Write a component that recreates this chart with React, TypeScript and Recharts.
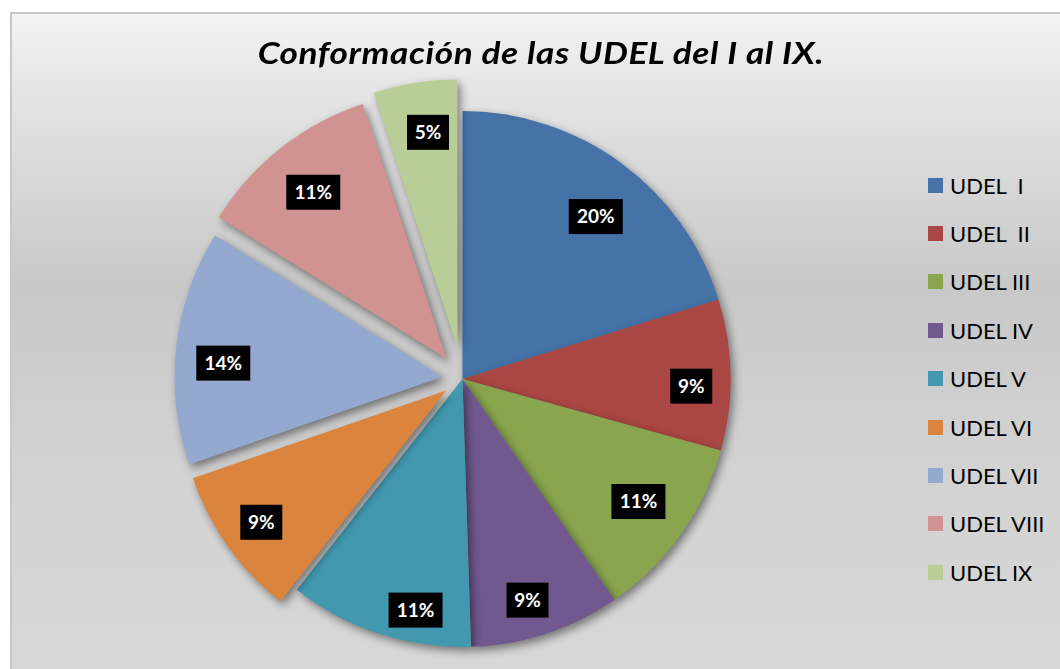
import React from 'react'
import { PieChart, Pie, Cell, Legend } from 'recharts'

// UDEL groups, values as shown on the slices (percent of the whole)
const NAMES = ['UDEL  I', 'UDEL  II', 'UDEL III', 'UDEL IV', 'UDEL V', 'UDEL VI', 'UDEL VII', 'UDEL VIII', 'UDEL IX']
const VALUES = [20, 9, 11, 9, 11, 9, 14, 11, 5]
const COLORS = ['#4572a7', '#aa4643', '#89a54e', '#71588f', '#4198af', '#db843d', '#93a9cf', '#d19392', '#b9cd96']
// explosion distance in px (0 = stays in the pie)
const EXPLODE = [0, 0, 0, 0, 0, 20, 20, 26, 32]
// label placement: fraction of radius + angle nudge (Excel "best fit")
const LABEL_R = [0.784, 0.854, 0.8, 0.86, 0.88, 0.847, 0.82, 0.795, 0.81]
const LABEL_SHIFT = [-3, -2.7, 0.6, -1.8, 6.7, 0, 2.8, 0.5, -1.3]

const data = NAMES.map((name, i) => ({ name, value: VALUES[i] }))

const CX = 462.5
const CY = 379
const R = 268
const RAD = Math.PI / 180
const TOTAL = VALUES.reduce((a, b) => a + b, 0)

const midAngleOf = (i: number) => {
  const before = VALUES.slice(0, i).reduce((a, b) => a + b, 0)
  return 90 - ((before + VALUES[i] / 2) / TOTAL) * 360
}

const makeLabel = (show: (i: number) => boolean) => (props: any) => {
  const { cx, cy, midAngle, outerRadius, percent, index } = props
  if (!show(index)) return null
  const r = outerRadius * LABEL_R[index]
  const a = midAngle + LABEL_SHIFT[index]
  const x = cx + r * Math.cos(-a * RAD)
  const y = cy + r * Math.sin(-a * RAD)
  const txt = `${Math.round(percent * 100)}%`
  const w = txt.length === 2 ? 42 : 54
  return (
    <g>
      <rect x={x - w / 2} y={y - 17.5} width={w} height={35} fill='#000' />
      <text x={x} y={y} dy='0.36em' textAnchor='middle' fill='#fff' fontWeight={700} fontSize={19} fontFamily='Lato'>
        {txt}
      </text>
    </g>
  )
}

const renderLegend = () => (
  <div style={{ fontFamily: 'Lato', fontSize: 22, color: '#000' }}>
    {NAMES.map((name, i) => (
      <div key={name} style={{ display: 'flex', alignItems: 'center', height: 48.4 }}>
        <span style={{ width: 15, height: 15, background: COLORS[i], marginRight: 7, display: 'inline-block' }} />
        <span style={{ whiteSpace: 'pre' }}>{name}</span>
      </div>
    ))}
  </div>
)

export default function App() {
  return (
    <div style={{ position: 'fixed', left: 0, top: 0, width: 1060, height: 669, overflow: 'hidden', background: '#fff' }}>
      <style>{`.recharts-sector { filter: drop-shadow(3px 4px 4px rgba(0,0,0,0.45)); }`}</style>
      <div
        style={{
          position: 'absolute',
          left: 10,
          top: 12,
          width: 1070,
          height: 680,
          border: '2px solid #c6c6c6',
          background: 'linear-gradient(to bottom, #f3f3f3 0%, #e2e2e2 14%, #c8c8c8 40%, #d2d2d2 65%, #d8d8d8 100%)',
        }}
      />
      <div
        style={{
          position: 'absolute',
          left: 0,
          top: 33,
          width: 1082,
          textAlign: 'center',
          fontFamily: 'Lato',
          fontWeight: 700,
          fontStyle: 'italic',
          fontSize: 31,
          letterSpacing: 0.5,
          color: '#000',
          transform: 'scaleX(1.135)',
          transformOrigin: '541px 0',
        }}
      >
        Conformación de las UDEL del I al IX.
      </div>
      <div style={{ position: 'absolute', left: 0, top: 0 }}>
        <PieChart width={1060} height={669} margin={{ top: 0, right: 0, bottom: 0, left: 0 }}>
          <Pie
            data={data}
            dataKey='value'
            nameKey='name'
            cx={CX}
            cy={CY}
            outerRadius={R}
            startAngle={90}
            endAngle={-270}
            stroke='none'
            labelLine={false}
            label={makeLabel((i) => EXPLODE[i] === 0)}
            isAnimationActive={false}
          >
            {data.map((entry, i) => (
              <Cell key={`base-${i}`} fill={EXPLODE[i] === 0 ? COLORS[i] : 'none'} />
            ))}
          </Pie>
          {EXPLODE.map((d, k) => {
            if (d === 0) return null
            const mid = midAngleOf(k)
            return (
              <Pie
                key={`exp-${k}`}
                data={data}
                dataKey='value'
                nameKey='name'
                cx={CX + d * Math.cos(mid * RAD)}
                cy={CY - d * Math.sin(mid * RAD)}
                outerRadius={R}
                startAngle={90}
                endAngle={-270}
                stroke='none'
                legendType='none'
                labelLine={false}
                label={makeLabel((i) => i === k)}
                isAnimationActive={false}
              >
                {data.map((entry, i) => (
                  <Cell key={`e-${k}-${i}`} fill={i === k ? COLORS[i] : 'none'} />
                ))}
              </Pie>
            )
          })}
          <Legend
            layout='vertical'
            content={renderLegend}
            wrapperStyle={{ left: 928, top: 161, width: 140, right: 'auto', bottom: 'auto' }}
          />
        </PieChart>
      </div>
    </div>
  )
}
